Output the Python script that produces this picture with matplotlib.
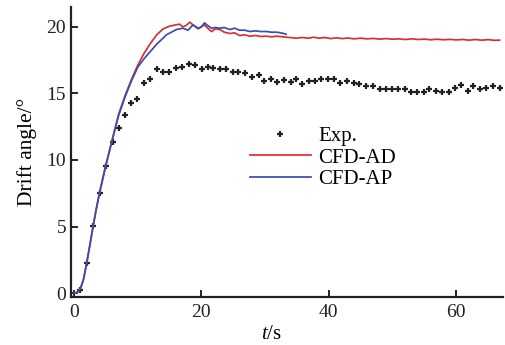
import numpy as np
import matplotlib
matplotlib.use('Agg')
import matplotlib.pyplot as plt

plt.rcParams['font.family'] = ['Liberation Serif', 'DejaVu Serif']
plt.rcParams['mathtext.fontset'] = 'custom'
plt.rcParams['mathtext.rm'] = 'Liberation Serif'
plt.rcParams['mathtext.it'] = 'Liberation Serif:italic'

exp_t = [1.0, 2.1, 3.0, 4.1, 5.0, 6.1, 7.1, 8.0, 9.0, 9.9, 11.0, 12.0, 13.1, 14.0,
         14.9, 16.0, 16.9, 18.0, 19.0, 20.1, 21.0, 21.9, 22.9, 23.8, 24.9, 25.8,
         26.9, 28.0, 29.0, 29.9, 30.9, 31.9, 32.9, 34.0, 34.9, 35.8, 36.9, 37.8,
         38.8, 39.9, 40.8, 41.8, 42.8, 43.9, 44.8, 45.9, 46.9, 48.0, 48.9, 49.9,
         50.9, 51.9, 52.9, 53.8, 54.9, 55.8, 56.9, 57.8, 58.8, 59.8, 60.8, 61.8,
         62.7, 63.8, 64.7, 65.7, 66.8]
exp_y = [0.2, 2.28, 5.06, 7.5, 9.57, 11.38, 12.38, 13.38, 14.3, 14.6, 15.8, 16.1,
         16.8, 16.6, 16.6, 16.9, 17.0, 17.2, 17.1, 16.8, 17.0, 16.9, 16.8, 16.8,
         16.6, 16.6, 16.5, 16.2, 16.4, 15.9, 16.1, 15.84, 16.0, 15.84, 16.09, 15.69,
         15.94, 15.94, 16.09, 16.09, 16.09, 15.77, 15.96, 15.77, 15.69, 15.56, 15.56,
         15.31, 15.31, 15.31, 15.31, 15.31, 15.09, 15.14, 15.14, 15.34, 15.21, 15.14,
         15.14, 15.39, 15.64, 15.21, 15.59, 15.31, 15.39, 15.59, 15.39]

# CFD-AD
ad_t = [0, 0.5, 1, 1.5, 2, 2.5, 3, 3.5, 4, 5, 6, 7, 8, 9, 10, 11, 12, 13, 14, 15,
        16, 16.6, 17.1, 17.6, 18.2, 18.8, 19.5, 20.0, 20.5, 21.0, 21.6, 22.2, 22.9,
        23.6, 24.5, 25.2, 26.0, 26.8, 27.6, 28.5, 29.3, 30.2, 31.0, 31.8, 32.8, 33.8,
        34.9, 35.8, 36.8, 37.6, 38.5, 39.4, 40.3, 41.2, 42.1, 43.0, 44.0, 45.0, 46.0,
        47.0, 48.0, 49.0, 50.0, 51.0, 52.0, 53.0, 54.0, 55.0, 56.0, 57.0, 58.0, 59.0,
        60.0, 61.0, 62.0, 63.0, 64.0, 65.0, 66.0, 66.8]
ad_y = [0, 0.05, 0.3, 1.0, 2.25, 3.6, 5.0, 6.3, 7.5, 9.6, 11.5, 13.4, 14.8, 16.0,
        17.1, 18.0, 18.75, 19.4, 19.85, 20.05, 20.15, 20.2, 20.0, 20.1, 20.35, 20.1,
        19.85, 20.0, 20.15, 19.9, 19.65, 19.85, 19.8, 19.6, 19.5, 19.55, 19.35, 19.4,
        19.3, 19.35, 19.28, 19.3, 19.25, 19.3, 19.25, 19.2, 19.15, 19.2, 19.15, 19.22,
        19.15, 19.2, 19.12, 19.18, 19.12, 19.16, 19.1, 19.15, 19.1, 19.13, 19.08,
        19.12, 19.07, 19.1, 19.05, 19.1, 19.05, 19.08, 19.03, 19.07, 19.03, 19.06,
        19.02, 19.05, 19.0, 19.05, 19.0, 19.04, 18.99, 19.0]

# CFD-AP
ap_t = [0, 0.5, 1, 1.5, 2, 2.5, 3, 3.5, 4, 5, 6, 7, 8, 9, 10, 11, 12, 13, 14, 14.5,
        15.3, 16.1, 17.1, 17.9, 18.7, 19.5, 20.0, 20.5, 21.0, 21.6, 22.2, 22.9, 23.6,
        24.5, 25.2, 26.0, 26.8, 27.6, 28.5, 29.3, 30.2, 31.0, 31.8, 32.5, 33.3]
ap_y = [0, 0.05, 0.3, 1.0, 2.2, 3.55, 4.95, 6.25, 7.45, 9.55, 11.45, 13.3, 14.7,
        15.9, 16.95, 17.6, 18.15, 18.7, 19.15, 19.4, 19.6, 19.8, 19.9, 19.75, 20.15,
        19.9, 20.0, 20.3, 20.1, 19.9, 19.95, 19.9, 19.95, 19.8, 19.9, 19.75, 19.75,
        19.65, 19.7, 19.65, 19.65, 19.6, 19.6, 19.55, 19.45]

fig = plt.figure(figsize=(5.05, 3.45), dpi=100)
ax = fig.add_axes([0.1406, 0.139, 0.855, 0.841])

ax.plot(exp_t, exp_y, linestyle='none', marker='+', markersize=5, mew=1.6,
        color='#222222', label='Exp.')
ax.plot(ad_t, ad_y, color='#d9302f', lw=1.25, label='CFD-AD')
ax.plot(ap_t, ap_y, color='#3a4bb3', lw=1.25, label='CFD-AP')

ax.set_xlim(-0.45, 67.3)
ax.set_ylim(-0.3, 21.5)
ax.set_xticks([0, 20, 40, 60])
ax.set_yticks([0, 5, 10, 15, 20])

for s in ['top', 'right']:
    ax.spines[s].set_visible(False)
for s in ['left', 'bottom']:
    ax.spines[s].set_linewidth(1.6)
    ax.spines[s].set_color('#222222')
ax.tick_params(direction='in', length=5, width=1.4, labelsize=14, colors='#222222')
ax.tick_params(axis='x', pad=5)

ax.set_xlabel(r'$\it{t}$/s', fontsize=15, labelpad=1)
ax.xaxis.set_label_coords(0.465, -0.095)
ax.set_ylabel('Drift angle/°', fontsize=15.5, labelpad=7)

ax.legend(loc='upper left', bbox_to_anchor=(0.414, 0.588), frameon=False,
          fontsize=15, handlelength=2.95, handletextpad=0.34, labelspacing=0.1,
          borderpad=0, borderaxespad=0)

fig.savefig('out.png', dpi=100)
